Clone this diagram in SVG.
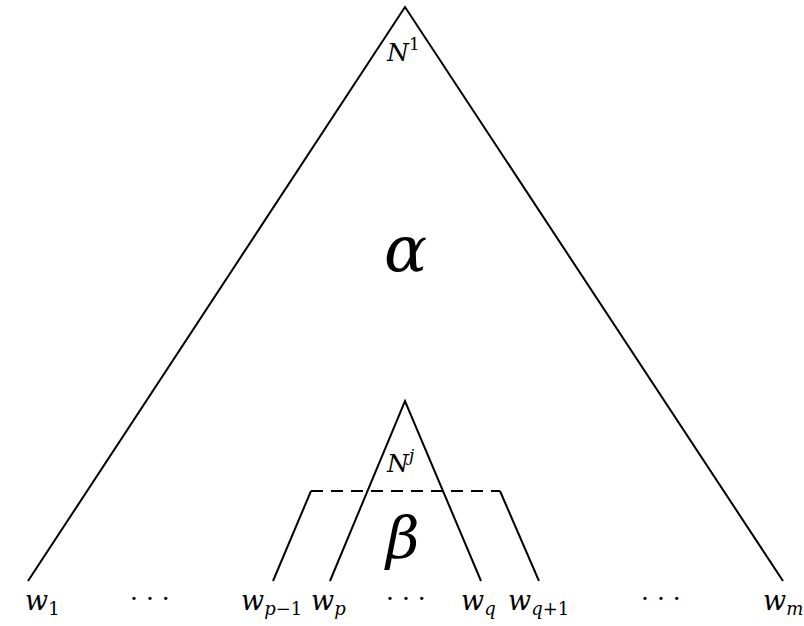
<svg xmlns="http://www.w3.org/2000/svg" width="804" height="626" viewBox="0 0 804 626">
<style>
.l{stroke:#000;stroke-width:2;fill:none}
.d{stroke:#000;stroke-width:2;fill:none;stroke-dasharray:12,8}
text{font-family:"DejaVu Serif","Liberation Serif",serif;font-style:italic;fill:#000}
.w{font-size:27px}
.s{font-size:18px}
.dots{font-style:normal;font-size:25px}
</style>
<rect width="804" height="626" fill="#fff"/>
<g id="connectors">
<polyline class="l" points="28,581 405,7 783,581"/>
<polyline class="l" points="330,581 405,401 481,581"/>
<polyline class="l" points="273,581 311,491"/>
<polyline class="l" points="500,491 539,581"/>
<line class="d" x1="311" y1="491" x2="500" y2="491"/>
</g>
<g id="N1"><text x="387" y="61" font-size="25">N<tspan font-size="17" font-style="normal" dy="-11">1</tspan></text></g>
<g id="alpha"><text x="384" y="271" font-size="64">α</text></g>
<g id="Nj"><text x="387" y="472" font-size="25">N<tspan font-size="17" dy="-11">j</tspan></text></g>
<g id="beta"><text x="386" y="558" font-size="58">β</text></g>
<g id="labels">
<text class="w" x="25" y="610">w<tspan class="s" font-style="normal" dy="5">1</tspan></text>
<text class="dots" x="130" y="607">· · ·</text>
<text class="w" x="241" y="610">w<tspan class="s" dy="5">p</tspan><tspan class="s" font-style="normal">−1</tspan></text>
<text class="w" x="311" y="610">w<tspan class="s" dy="5">p</tspan></text>
<text class="dots" x="386" y="607">· · ·</text>
<text class="w" x="461" y="610">w<tspan class="s" dy="5">q</tspan></text>
<text class="w" x="508" y="610">w<tspan class="s" dy="5">q</tspan><tspan class="s" font-style="normal">+1</tspan></text>
<text class="dots" x="641" y="607">· · ·</text>
<text class="w" x="763" y="610">w<tspan class="s" dy="5">m</tspan></text>
</g>
</svg>
